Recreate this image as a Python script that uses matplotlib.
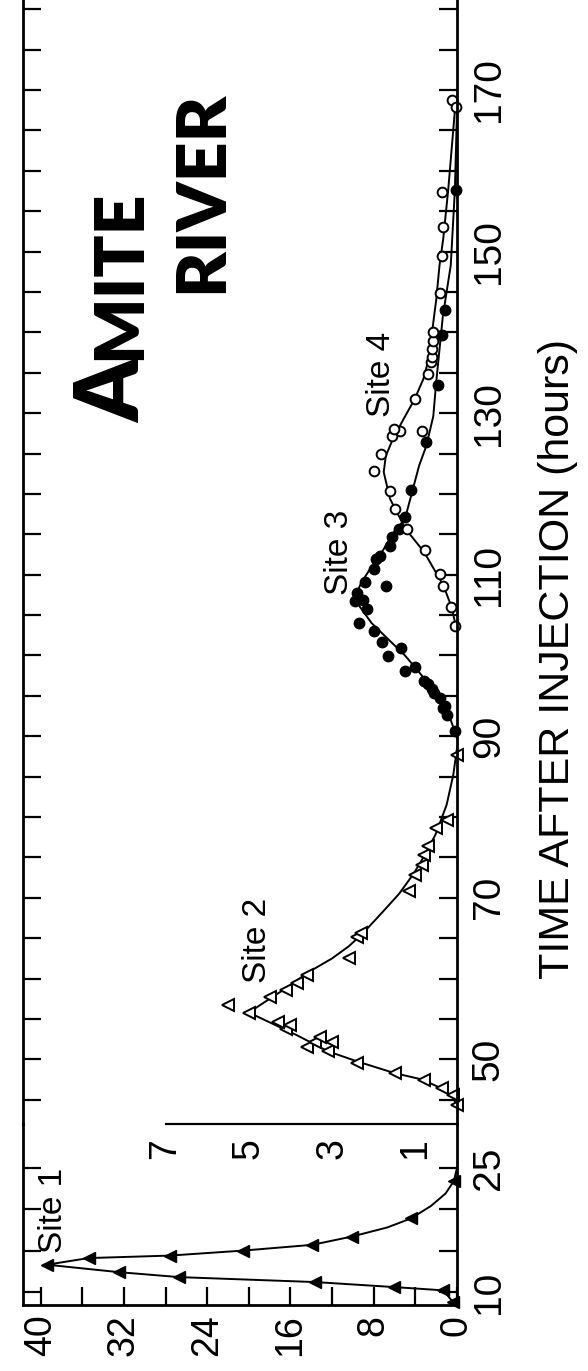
import matplotlib
matplotlib.use('Agg')
import matplotlib.pyplot as plt
import numpy as np

plt.rcParams['font.family'] = ['Liberation Sans', 'DejaVu Sans']

# Site 1 (read on the 0-40 scale), filled triangles
site1_time = [8.8, 10.2, 10.6, 11.2, 11.8, 12.4, 13.3, 14.1, 14.4, 15.0, 15.7, 16.7, 18.9, 23.4]
site1_conc = [0.4, 1.3, 6.1, 13.6, 26.7, 32.5, 39.4, 35.4, 27.6, 20.6, 13.9, 10.1, 4.4, 0.3]
site1_line_time = [8.6, 8.8, 10.2, 10.6, 11.2, 11.8, 12.4, 13.3, 14.1, 14.4, 15.0, 15.7, 16.7,
                   17.8, 18.9, 20.4, 21.9, 23.4, 25.0]
site1_line_conc = [0.0, 0.4, 1.3, 6.1, 13.6, 26.7, 32.5, 39.4, 35.4, 27.6, 20.6, 13.9, 10.1,
                   6.7, 4.4, 2.5, 1.1, 0.3, 0.0]

# Site 2 (0-7 scale), open triangles
site2_time = [44.4, 45.6, 46.5, 47.4, 48.3, 49.5, 51.0, 51.5, 52.1, 52.2, 52.8, 53.7, 54.3, 54.6,
              55.8, 56.7, 57.7, 58.6, 59.5, 60.5, 62.6, 65.1, 65.7, 70.9, 72.8, 74.1, 75.3, 76.4,
              78.6, 79.6, 87.7]
site2_conc = [0.0, 0.1, 0.35, 0.8, 1.5, 2.4, 3.1, 3.6, 3.4, 3.0, 3.3, 4.1, 4.0, 4.3,
              5.0, 5.5, 4.5, 4.1, 3.85, 3.6, 2.6, 2.4, 2.3, 1.15, 1.0, 0.85, 0.8, 0.7,
              0.5, 0.24, 0.0]
site2_line_time = [44.2, 45.3, 46.3, 47.5, 48.3, 49.7, 51.0, 53.0, 55.8, 57.5, 59.0, 60.7, 62.5,
                   64.0, 65.5, 68.0, 70.5, 73.0, 75.5, 77.9, 81.5, 85.2, 88.5]
site2_line_conc = [0.0, 0.1, 0.33, 0.83, 1.5, 2.37, 3.1, 3.85, 5.0, 4.5, 4.05, 3.6, 3.0,
                   2.6, 2.28, 1.83, 1.39, 1.04, 0.75, 0.51, 0.25, 0.09, 0.0]

# Site 3, filled circles
site3_time = [90.6, 92.6, 93.5, 93.8, 94.7, 95.3, 95.9, 96.5, 96.9, 98.1, 98.6, 99.9, 100.9, 101.7,
              103.0, 104.0, 105.8, 106.7, 106.9, 107.7, 108.6, 109.1, 110.7, 112.0, 112.3, 113.6,
              114.7, 115.7, 117.2, 120.5, 126.4, 133.5, 139.7, 142.8, 157.6]
site3_conc = [0.05, 0.25, 0.33, 0.3, 0.42, 0.55, 0.6, 0.7, 0.8, 1.25, 1.0, 1.65, 1.35, 1.8,
              2.0, 2.35, 2.15, 2.45, 2.25, 2.4, 1.7, 2.2, 2.0, 1.95, 1.85, 1.6,
              1.55, 1.4, 1.25, 1.1, 0.75, 0.45, 0.35, 0.3, 0.03]
site3_line_time = [89.8, 92.0, 94.0, 96.0, 98.0, 100.0, 102.0, 104.0, 106.0, 107.5, 109.0, 111.1,
                   113.0, 115.3, 116.9, 120.2, 123.5, 125.9, 129.6, 133.8, 137.9, 142.0, 148.3,
                   157.7, 167.5]
site3_line_conc = [0.0, 0.15, 0.37, 0.62, 0.92, 1.25, 1.65, 2.05, 2.33, 2.43, 2.3, 2.04,
                   1.78, 1.51, 1.25, 1.08, 0.91, 0.74, 0.57, 0.5, 0.42, 0.34, 0.15,
                   0.05, 0.0]

# Site 4, open circles
site4_time = [103.7, 106.0, 108.6, 110.1, 113.0, 115.7, 118.1, 120.4, 122.8, 124.9, 127.2, 127.8,
              128.0, 127.8, 131.7, 134.8, 136.3, 137.0, 137.9, 138.9, 140.0, 144.9, 149.4, 153.1,
              157.4, 168.8, 167.9]
site4_conc = [0.05, 0.15, 0.33, 0.42, 0.78, 1.2, 1.5, 1.6, 2.0, 1.83, 1.56, 1.38,
              1.52, 0.85, 1.0, 0.7, 0.62, 0.6, 0.6, 0.58, 0.58, 0.4, 0.35, 0.33,
              0.35, 0.13, 0.02]
site4_line_time = [103.0, 106.0, 108.7, 112.8, 115.7, 119.4, 122.7, 124.7, 126.8, 129.3, 131.7,
                   134.2, 136.7, 140.0, 144.0, 148.3, 151.6, 157.7, 167.5, 168.5]
site4_line_conc = [0.0, 0.13, 0.33, 0.79, 1.24, 1.61, 1.76, 1.71, 1.54, 1.28, 1.02,
                   0.81, 0.68, 0.6, 0.5, 0.42, 0.33, 0.21, 0.05, 0.0]

# axis ticks
conc_major_lo = [0, 8, 16, 24, 32, 40]
conc_minor_lo = [4, 12, 20, 28, 36]
conc_ticks_up = [1, 3, 5, 7]
time_major_lo = [10, 25]
time_minor_lo = [15, 20]
time_major_up = [50, 70, 90, 110, 130, 150, 170]
time_minor_up = [45, 55, 60, 65, 75, 80, 85, 95, 100, 105, 115, 120, 125, 135, 140, 145,
                 155, 160, 165, 175, 180]

W, H = 588, 1371
fig = plt.figure(figsize=(W / 100, H / 100), dpi=100)

left = 23 / W
width = 434 / W
ax_lo = fig.add_axes([left, 66 / H, width, 181 / H])
ax_up = fig.add_axes([left, 247 / H, width, 1135 / H])

ax_lo.set_xlim(41.7, 0)
ax_lo.set_ylim(8.43, 30.3)
ax_up.set_xlim(41.7 / 4, 0)
ax_up.set_ylim(42.0, 182.5)

for ax in (ax_lo, ax_up):
    for s in ax.spines.values():
        s.set_linewidth(2.0)
    ax.patch.set_alpha(0)
ax_lo.spines['top'].set_visible(False)
ax_up.spines['top'].set_visible(False)
ax_up.spines['bottom'].set_bounds(0, 7)
ax_up.spines['bottom'].set_linewidth(1.6)

# lower panel ticks
ax_lo.set_xticks(conc_major_lo)
ax_lo.set_xticklabels([str(v) for v in conc_major_lo])
ax_lo.set_xticks(conc_minor_lo, minor=True)
ax_lo.set_yticks(time_major_lo)
ax_lo.set_yticklabels([str(v) for v in time_major_lo])
ax_lo.set_yticks(time_minor_lo, minor=True)
ax_lo.tick_params(axis='x', which='both', direction='in', length=13, width=1.6,
                  pad=7, labelsize=27, labelrotation=90)
ax_lo.tick_params(axis='y', which='both', direction='in', length=13, width=1.6,
                  left=True, right=True, labelleft=False, labelright=True,
                  pad=10, labelsize=28, labelrotation=90)

# upper panel ticks
ax_up.set_xticks(conc_ticks_up)
ax_up.set_xticklabels([str(v) for v in conc_ticks_up])
ax_up.tick_params(axis='x', which='both', length=0, pad=10, labelsize=27, labelrotation=90)
ax_up.set_yticks(time_major_up)
ax_up.set_yticklabels([str(v) for v in time_major_up])
ax_up.set_yticks(time_minor_up, minor=True)
ax_up.tick_params(axis='y', which='both', direction='in', length=13, width=1.6,
                  left=True, right=True, labelleft=False, labelright=True,
                  pad=10, labelsize=28, labelrotation=90)
for ax in (ax_lo, ax_up):
    for lab in ax.get_yticklabels():
        lab.set_va('center')

# data
ax_lo.plot(site1_line_conc, site1_line_time, color='black', lw=1.4, clip_on=False)
ax_lo.plot(site1_conc, site1_time, ls='none', marker='<', ms=9, color='black', clip_on=False)

ax_up.plot(site2_line_conc, site2_line_time, color='black', lw=1.4, clip_on=False)
ax_up.plot(site2_conc, site2_time, ls='none', marker='<', ms=8, mfc='white', mec='black',
           mew=1.4, clip_on=False)
ax_up.plot(site3_line_conc, site3_line_time, color='black', lw=1.4, clip_on=False)
ax_up.plot(site3_conc, site3_time, ls='none', marker='o', ms=7.5, color='black', clip_on=False)
ax_up.plot(site4_line_conc, site4_line_time, color='black', lw=1.4, clip_on=False)
ax_up.plot(site4_conc, site4_time, ls='none', marker='o', ms=7, mfc='white', mec='black',
           mew=1.4, clip_on=False)

# site labels (pixel positions from the picture)
def fx(px):
    return px / W

def fy(py):
    return 1 - py / H

for txt, px, py in [('Site 1', 54, 1210), ('Site 2', 257, 940),
                    ('Site 3', 339, 552), ('Site 4', 381, 374)]:
    fig.text(fx(px), fy(py), txt, rotation=90, ha='center', va='center', fontsize=24)

fig.text(fx(558), fy(659), 'TIME AFTER INJECTION (hours)', rotation=90,
         ha='center', va='center', fontsize=31)

title_font = dict(family=['Lato', 'DejaVu Sans'], weight='heavy', rotation=90,
                  rotation_mode='anchor', ha='left', va='baseline')
fig.text(fx(140), fy(423), 'A', fontsize=64, **title_font)
fig.text(fx(140), fy(360), 'MITE', fontsize=50, **title_font)
fig.text(fx(222), fy(293), 'RIVER', fontsize=50, **title_font)

fig.savefig('out.png', dpi=100)
